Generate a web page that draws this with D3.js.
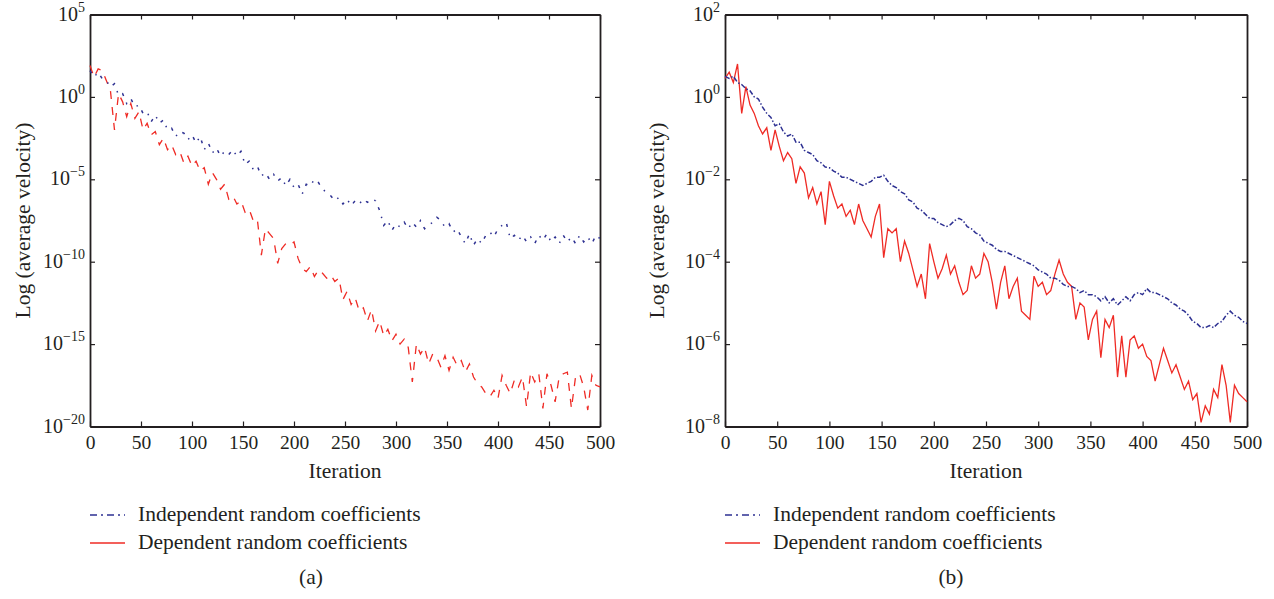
<!DOCTYPE html>
<html lang="en">
<head>
<meta charset="UTF-8">
<script src="https://d3js.org/d3.v7.min.js"></script>
<style>
    body {
        margin: 0;
        background: #fff;
        font-family: "Liberation Serif", "Times New Roman", serif;
    }
    text {
        fill: #231f20;
    }
    .tick-label {
        font-size: 19.5px;
    }
    .axis-title {
        font-size: 21.5px;
    }
</style>
</head>
<body>
<svg id="chart" width="1274" height="599"></svg>
<script>
// sample positions (every 4th iteration)
const iterations = d3.range(0, 501, 4);
const xTicks = [0, 50, 100, 150, 200, 250, 300, 350, 400, 450, 500];

// tick exponents of the log axes
const yTicksA = [5, 0, -5, -10, -15, -20];
const yTicksB = [2, 0, -2, -4, -6, -8];

// log10 of average velocity
const indepA = [
    1.6, 1.2, 1.5, 1.1, 1.0, 0.6, 0.8, 0.1, 0.2, -0.4,
    -0.1, -0.6, -0.5, -1.0, -0.9, -1.5, -1.1, -1.6, -1.4, -2.0,
    -1.9, -2.4, -2.1, -2.2, -2.6, -2.3, -2.8, -2.4, -3.2, -2.8,
    -3.4, -3.1, -3.6, -3.3, -3.5, -3.2, -3.6, -3.3, -4.1, -3.9,
    -4.4, -4.2, -4.8, -4.6, -5.0, -4.7, -5.1, -4.9, -5.4, -5.0,
    -5.5, -5.3, -5.9, -5.3, -5.4, -5.0, -5.2, -5.6, -5.8, -6.0,
    -6.3, -6.1, -6.5, -6.2, -6.6, -6.3, -6.5, -6.2, -6.4, -6.2,
    -6.3, -6.9, -7.8, -7.5, -8.1, -7.7, -7.9, -7.6, -8.0, -7.6,
    -7.9, -7.5, -8.0, -7.8, -7.6, -7.3, -7.5, -7.9, -7.7, -8.2,
    -8.0, -8.5, -8.9, -8.3, -9.0, -8.6, -8.9, -8.4, -8.2, -8.5,
    -8.0, -7.8, -7.6, -8.6, -8.4, -8.7, -8.4, -8.8, -8.5, -8.9,
    -8.4, -8.7, -8.3, -8.8, -8.5, -8.9, -8.4, -8.8, -8.5, -8.9,
    -8.4, -8.8, -8.5, -8.9, -8.4, -8.6
];
const depA = [
    1.9, 1.2, 1.7, 1.6, 1.0, 0.4, -2.0, 0.2, -0.3, -1.2,
    -0.4, -1.3, -0.9, -2.0, -1.6, -2.3, -2.1, -2.9, -2.5, -3.2,
    -2.9, -3.5, -3.3, -4.0, -3.6, -4.2, -3.9, -4.5, -4.3, -5.3,
    -4.6, -5.0, -5.6, -5.3, -6.2, -6.0, -6.5, -6.3, -7.0, -6.8,
    -7.5, -7.4, -9.6, -8.0, -8.3, -8.6, -10.1, -9.2, -8.9, -9.0,
    -8.8, -9.8, -10.4, -10.6, -10.3, -10.9, -10.5, -10.7, -11.0, -10.8,
    -11.2, -11.0, -12.3, -11.8, -12.6, -12.2, -13.0, -12.8, -13.6, -12.9,
    -14.2, -13.6, -14.5, -14.1, -14.8, -14.4, -15.0, -14.7, -15.2, -17.3,
    -15.0, -15.6, -15.2, -16.2, -15.6, -15.8, -16.4, -15.7, -16.6, -15.8,
    -16.3, -16.0, -16.7, -16.2, -17.0, -17.4, -17.6, -18.0, -18.2, -17.8,
    -18.3, -16.9, -17.5, -18.0, -17.2, -17.6, -17.0, -18.8, -16.7, -17.3,
    -16.8, -18.9, -16.8, -17.5, -18.5, -17.0, -16.8, -16.7, -18.9, -17.0,
    -16.8, -17.6, -19.0, -16.9, -17.5, -17.6
];
const indepB = [
    0.5, 0.45, 0.5, 0.35, 0.3, 0.2, 0.15, 0.0, -0.05, -0.25,
    -0.4, -0.5, -0.7, -0.65, -0.85, -0.95, -0.9, -1.1, -1.1, -1.3,
    -1.35, -1.4, -1.55, -1.6, -1.7, -1.72, -1.8, -1.85, -1.95, -1.95,
    -2.0, -2.05, -2.1, -2.15, -2.1, -2.05, -1.95, -1.95, -1.9, -2.05,
    -2.15, -2.2, -2.3, -2.35, -2.5, -2.55, -2.7, -2.75, -2.85, -2.95,
    -2.95, -3.05, -3.1, -3.15, -3.1, -3.0, -2.95, -3.0, -3.15, -3.2,
    -3.3, -3.35, -3.5, -3.55, -3.6, -3.7, -3.75, -3.75, -3.8, -3.85,
    -3.9, -3.95, -4.0, -4.05, -4.1, -4.2, -4.25, -4.3, -4.4, -4.4,
    -4.45, -4.55, -4.6, -4.6, -4.65, -4.75, -4.7, -4.8, -4.8, -4.85,
    -4.95, -4.85, -5.0, -4.9, -5.05, -4.95, -4.85, -4.95, -4.8, -4.75,
    -4.8, -4.65, -4.75, -4.75, -4.8, -4.85, -4.9, -5.0, -5.05, -5.15,
    -5.2, -5.3, -5.45, -5.5, -5.6, -5.6, -5.55, -5.6, -5.5, -5.45,
    -5.3, -5.2, -5.3, -5.35, -5.45, -5.5
];
const depB = [
    0.45, 0.6, 0.35, 0.8, -0.4, 0.25, -0.2, -0.4, -0.7, -0.9,
    -0.75, -1.3, -0.8, -1.2, -1.55, -1.35, -1.5, -2.1, -1.7, -1.85,
    -2.45, -2.2, -2.6, -2.3, -3.1, -2.05, -2.4, -2.7, -2.6, -2.9,
    -2.75, -3.1, -2.6, -3.0, -3.2, -3.4, -2.9, -2.6, -3.9, -3.2,
    -3.3, -3.2, -4.0, -3.5, -3.8, -4.2, -4.6, -4.3, -4.9, -3.56,
    -4.0, -4.4, -4.17, -3.84, -4.3, -4.1, -4.5, -4.8, -4.7, -4.1,
    -4.4, -4.3, -3.8, -4.0, -4.5, -5.15, -4.5, -4.1, -4.9, -4.6,
    -4.4, -5.2, -5.3, -5.4, -4.35, -4.6, -4.5, -4.8, -4.7, -4.3,
    -3.96, -4.3, -4.5, -4.6, -5.4, -5.0, -5.1, -5.9, -5.4, -5.2,
    -6.33, -5.4, -5.6, -5.3, -6.8, -5.8, -6.8, -5.9, -5.8, -6.1,
    -6.0, -6.3, -6.4, -6.9, -6.5, -6.1, -6.4, -6.7, -6.5, -6.8,
    -7.1, -6.9, -7.35, -7.2, -7.9, -7.5, -7.7, -7.1, -7.3, -6.5,
    -7.0, -7.9, -7.0, -7.2, -7.3, -7.4
];

const seriesNames = ["Independent random coefficients", "Dependent random coefficients"];
const panelNames = ["(a)", "(b)"];

const blue = "#2e3192";
const red = "#ef2b25";
const ink = "#231f20";

const svg = d3.select("#chart");

// panel (a) comes out broken up in the source, so its lines get wide gaps
const panels = [
    {left: 90, right: 600, ticks: yTicksA, indep: indepA, dep: depA,
     yTitleX: 22, capX: 311, redDash: "8,8", blueDash: "3,7,1.5,7"},
    {left: 725, right: 1247, ticks: yTicksB, indep: indepB, dep: depB,
     yTitleX: 656, capX: 951, redDash: null, blueDash: "5,2,1.5,2"}
];

const plotTop = 14.5, plotBottom = 426.5;

panels.forEach((p, pi) => {
    const g = svg.append("g");

    const x = d3.scaleLinear().domain([0, 500]).range([p.left, p.right]);
    const y = d3.scaleLog()
        .domain([Math.pow(10, d3.min(p.ticks)), Math.pow(10, d3.max(p.ticks))])
        .range([plotBottom, plotTop]);
    const tickVals = p.ticks.map(e => Math.pow(10, e));

    // axes with inward ticks on all four sides
    g.append("g")
        .attr("transform", `translate(0,${plotBottom})`)
        .call(d3.axisBottom(x).tickValues(xTicks).tickSizeInner(-5).tickSizeOuter(0).tickPadding(9))
        .call(a => a.selectAll("text").attr("class", "tick-label").style("font-family", "Liberation Serif").attr("fill", ink));
    g.append("g")
        .attr("transform", `translate(0,${plotTop})`)
        .call(d3.axisTop(x).tickValues(xTicks).tickSizeInner(-5).tickSizeOuter(0).tickFormat(""));
    g.append("g")
        .attr("transform", `translate(${p.left},0)`)
        .call(d3.axisLeft(y).tickValues(tickVals).tickSizeInner(-5).tickSizeOuter(0).tickFormat(""));
    g.append("g")
        .attr("transform", `translate(${p.right},0)`)
        .call(d3.axisRight(y).tickValues(tickVals).tickSizeInner(-5).tickSizeOuter(0).tickFormat(""));

    g.selectAll(".domain").attr("stroke", ink).attr("stroke-width", 1.8);
    g.selectAll(".tick line").attr("stroke", ink).attr("stroke-width", 1.2);

    // y tick labels: 10 with superscript exponent
    const yl = g.selectAll(".ylab")
        .data(p.ticks)
        .enter()
        .append("text")
        .attr("class", "tick-label")
        .attr("text-anchor", "end")
        .attr("x", p.left - 5)
        .attr("y", e => y(Math.pow(10, e)) + 6);
    yl.append("tspan").style("font-size", "20px").text("10");
    yl.append("tspan")
        .attr("dy", -9)
        .style("font-size", "14px")
        .text(e => e < 0 ? "\u2212" + Math.abs(e) : e);

    // series
    const line = d3.line()
        .x(d => x(d[0]))
        .y(d => y(Math.pow(10, d[1])));

    const depPts = iterations.map((it, i) => [it, p.dep[i]]).filter(d => d[1] !== undefined);
    const indPts = iterations.map((it, i) => [it, p.indep[i]]).filter(d => d[1] !== undefined);

    g.append("path")
        .datum(depPts)
        .attr("d", line)
        .attr("fill", "none")
        .attr("stroke", red)
        .attr("stroke-width", 1.3)
        .attr("stroke-dasharray", p.redDash);

    g.append("path")
        .datum(indPts)
        .attr("d", line)
        .attr("fill", "none")
        .attr("stroke", blue)
        .attr("stroke-width", 1.5)
        .attr("stroke-dasharray", p.blueDash);

    // titles
    g.append("text")
        .attr("class", "axis-title")
        .attr("text-anchor", "middle")
        .attr("x", (p.left + p.right) / 2)
        .attr("y", 478)
        .text("Iteration");

    g.append("text")
        .attr("class", "axis-title")
        .attr("text-anchor", "middle")
        .attr("transform", `translate(${p.yTitleX},${(plotTop + plotBottom) / 2}) rotate(-90)`)
        .attr("dy", "0.35em")
        .text("Log (average velocity)");

    // legend
    const legY = [515, 543];
    g.append("line")
        .attr("x1", p.left).attr("x2", p.left + 35)
        .attr("y1", legY[0]).attr("y2", legY[0])
        .attr("stroke", blue).attr("stroke-width", 1.4)
        .attr("stroke-dasharray", "7,4,2,4");
    g.append("line")
        .attr("x1", p.left).attr("x2", p.left + 35)
        .attr("y1", legY[1]).attr("y2", legY[1])
        .attr("stroke", red).attr("stroke-width", 1.4);
    seriesNames.forEach((name, i) => {
        g.append("text")
            .attr("class", "axis-title")
            .attr("x", p.left + 48)
            .attr("y", legY[i] + 6)
            .text(name);
    });

    g.append("text")
        .attr("class", "axis-title")
        .attr("text-anchor", "middle")
        .attr("x", p.capX)
        .attr("y", 584)
        .text(panelNames[pi]);
});
</script>
</body>
</html>
